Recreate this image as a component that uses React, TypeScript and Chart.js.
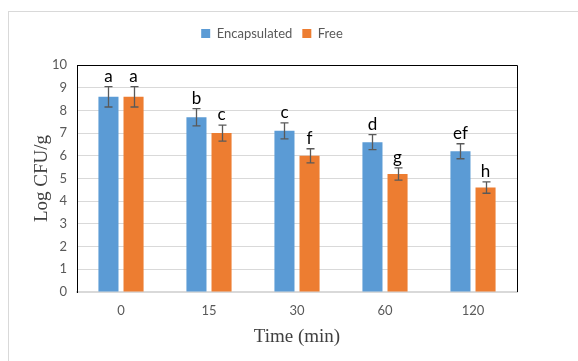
import React, { useEffect, useRef } from "react";
import { Chart, registerables } from "chart.js";

Chart.register(...registerables);

const categories = ["0", "15", "30", "60", "120"];
const encapsulated = [8.6, 7.7, 7.1, 6.6, 6.2];
const free = [8.6, 7.0, 6.0, 5.2, 4.6];
const encapsulatedErr = [0.45, 0.38, 0.35, 0.33, 0.33];
const freeErr = [0.45, 0.35, 0.31, 0.27, 0.25];
const encapsulatedLetters = ["a", "b", "c", "d", "ef"];
const freeLetters = ["a", "c", "f", "g", "h"];
const yMin = 0;
const yMax = 10;
const yStep = 1;

const errors = [encapsulatedErr, freeErr];
const letters = [encapsulatedLetters, freeLetters];

const SANS = "Lato, 'Liberation Sans', sans-serif";
const SERIF = "'Liberation Serif', 'DejaVu Serif', serif";

const framePlugin = {
  id: "frame",
  beforeInit(chart: any) {
    const legend = chart.legend;
    if (legend && !legend.__patched) {
      const orig = legend.fit.bind(legend);
      legend.fit = () => {
        orig();
        legend.height += 15;
        legend.bottom = legend.top + legend.height;
      };
      legend.__patched = true;
    }
  },
  beforeDraw(chart: any) {
    const ctx = chart.ctx;
    ctx.save();
    ctx.fillStyle = "#ffffff";
    ctx.fillRect(0, 0, chart.width, chart.height);
    ctx.strokeStyle = "#d9d9d9";
    ctx.lineWidth = 1;
    ctx.strokeRect(8.5, 11.5, chart.width + 20, chart.height + 20);
    ctx.restore();
  },
  afterDraw(chart: any) {
    const { ctx, chartArea } = chart;
    ctx.save();
    ctx.strokeStyle = "#000000";
    ctx.lineWidth = 1;
    ctx.beginPath();
    ctx.moveTo(Math.round(chartArea.left) + 0.5, Math.round(chartArea.bottom));
    ctx.lineTo(Math.round(chartArea.left) + 0.5, Math.round(chartArea.top) + 0.5);
    ctx.lineTo(Math.round(chartArea.right) + 0.5, Math.round(chartArea.top) + 0.5);
    ctx.lineTo(Math.round(chartArea.right) + 0.5, Math.round(chartArea.bottom));
    ctx.stroke();
    ctx.restore();
  },
};

const errorBarPlugin = {
  id: "errorBars",
  afterDatasetsDraw(chart: any) {
    const ctx = chart.ctx;
    const yScale = chart.scales.y;
    chart.data.datasets.forEach((ds: any, di: number) => {
      const meta = chart.getDatasetMeta(di);
      meta.data.forEach((bar: any, i: number) => {
        const v = ds.data[i];
        const e = errors[di][i];
        const x = Math.round(bar.x) + 0.5;
        const yTop = yScale.getPixelForValue(v + e);
        const yBot = yScale.getPixelForValue(v - e);
        ctx.save();
        ctx.strokeStyle = "#595959";
        ctx.lineWidth = 1.3;
        ctx.beginPath();
        ctx.moveTo(x, yTop);
        ctx.lineTo(x, yBot);
        ctx.moveTo(x - 4, yTop);
        ctx.lineTo(x + 4, yTop);
        ctx.moveTo(x - 4, yBot);
        ctx.lineTo(x + 4, yBot);
        ctx.stroke();
        ctx.fillStyle = "#000000";
        ctx.font = "17px " + SANS;
        ctx.textAlign = "center";
        ctx.textBaseline = "bottom";
        ctx.fillText(letters[di][i], bar.x, yTop - 2);
        ctx.restore();
      });
    });
  },
};

export default function App() {
  const ref = useRef<HTMLCanvasElement | null>(null);

  useEffect(() => {
    if (!ref.current) return;
    const chart = new Chart(ref.current, {
      type: "bar",
      data: {
        labels: categories,
        datasets: [
          {
            label: "Encapsulated",
            data: encapsulated,
            backgroundColor: "#5b9bd5",
            borderWidth: 0,
          },
          {
            label: "Free",
            data: free,
            backgroundColor: "#ed7d31",
            borderWidth: 0,
          },
        ],
      },
      options: {
        responsive: false,
        animation: false,
        devicePixelRatio: 1,
        datasets: {
          bar: { categoryPercentage: 0.57, barPercentage: 0.8 },
        },
        layout: { padding: { left: 27, right: 61, top: 17, bottom: 0 } },
        plugins: {
          tooltip: { enabled: false },
          legend: {
            position: "top",
            labels: {
              boxWidth: 9,
              boxHeight: 9,
              padding: 10,
              color: "#595959",
              font: { family: SANS, size: 13 },
            },
          },
        },
        scales: {
          x: {
            grid: { display: false, drawTicks: false },
            border: { color: "#d9d9d9", width: 2 },
            ticks: {
              color: "#595959",
              font: { family: SANS, size: 13 },
              padding: 11,
            },
            title: {
              display: true,
              text: "Time (min)",
              color: "#404040",
              font: { family: SERIF, size: 19 },
              padding: { top: 4, bottom: 13 },
            },
            afterFit(scale: any) {
              scale.height = 69;
            },
          },
          y: {
            min: yMin,
            max: yMax,
            ticks: {
              stepSize: yStep,
              color: "#595959",
              font: { family: SANS, size: 13 },
              padding: 10,
            },
            grid: { color: "#d9d9d9", drawTicks: false },
            border: { color: "#000000", width: 1 },
            title: {
              display: true,
              text: "Log CFU/g",
              color: "#404040",
              font: { family: SERIF, size: 19 },
              padding: { top: 4, bottom: 4 },
            },
            afterFit(scale: any) {
              scale.width = 50;
            },
          },
        },
      },
      plugins: [framePlugin, errorBarPlugin],
    });
    return () => chart.destroy();
  }, []);

  return (
    <div style={{ position: "absolute", left: 0, top: 0, width: 578, height: 361 }}>
      <canvas ref={ref} width={578} height={361} style={{ display: "block" }} />
    </div>
  );
}
